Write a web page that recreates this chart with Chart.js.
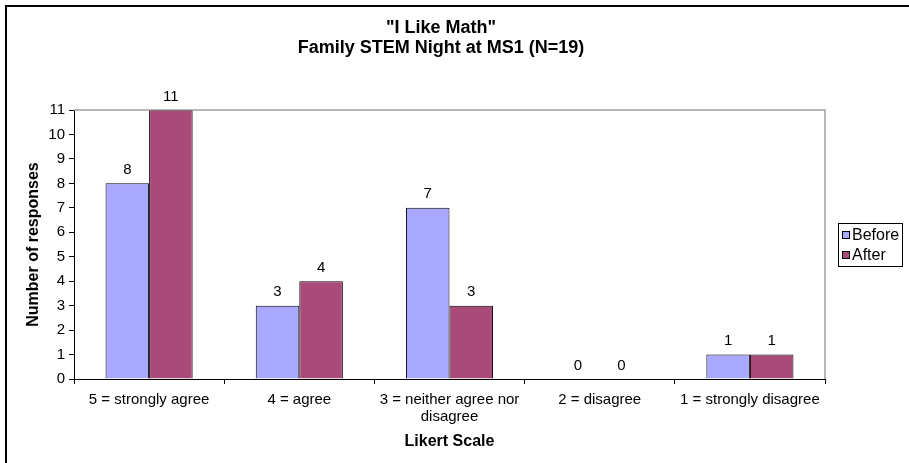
<!DOCTYPE html>
<html>
<head>
<meta charset="utf-8">
<script src="https://cdn.jsdelivr.net/npm/chart.js@4/dist/chart.umd.min.js"></script>
<style>
  html, body { margin: 0; padding: 0; background: #fff; }
  #wrap { width: 909px; height: 463px; }
</style>
</head>
<body>
<div id="wrap"><canvas id="c" width="909" height="463"></canvas></div>
<script>
const categories = [
  "5 = strongly agree",
  "4 = agree",
  ["3 = neither agree nor", "disagree"],
  "2 = disagree",
  "1 = strongly disagree"
];
const beforeValues = [8, 3, 7, 0, 1];
const afterValues = [11, 4, 3, 0, 1];
const yTicks = [0, 1, 2, 3, 4, 5, 6, 7, 8, 9, 10, 11];
const titleLines = ['"I Like Math"', 'Family STEM Night at MS1 (N=19)'];

const FONT = "'Liberation Sans', Arial, sans-serif";

// Outer frame, plot-area border, title, value labels and a boxed legend
const decorations = {
  id: 'decorations',
  beforeDraw(chart) {
    const ctx = chart.ctx;
    ctx.save();
    ctx.fillStyle = '#fff';
    ctx.fillRect(0, 0, chart.width, chart.height);
    ctx.strokeStyle = '#000';
    ctx.lineWidth = 2;
    ctx.strokeRect(6, 6, chart.width + 20, chart.height + 20);
    ctx.restore();
  },
  afterDraw(chart) {
    const ctx = chart.ctx;
    const a = chart.chartArea;
    ctx.save();
    // top and right edges of the plot area
    ctx.strokeStyle = '#a0a0a0';
    ctx.lineWidth = 1.5;
    ctx.beginPath();
    ctx.moveTo(a.left, a.top);
    ctx.lineTo(a.right, a.top);
    ctx.lineTo(a.right, a.bottom);
    ctx.stroke();

    // title
    ctx.fillStyle = '#000';
    ctx.font = 'bold 18px ' + FONT;
    ctx.textAlign = 'center';
    ctx.textBaseline = 'middle';
    ctx.fillText(titleLines[0], 441, 28);
    ctx.fillText(titleLines[1], 441, 48);

    // value labels above the bars
    ctx.font = '15px ' + FONT;
    ctx.textBaseline = 'bottom';
    chart.data.datasets.forEach((ds, i) => {
      chart.getDatasetMeta(i).data.forEach((bar, j) => {
        ctx.fillText(String(ds.data[j]), bar.x, bar.y - 6);
      });
    });

    // legend: framed box to the right of the plot area
    const lx = a.right + 13;
    const cy = (a.top + a.bottom) / 2;
    const rowGap = 20;
    const n = chart.data.datasets.length;
    ctx.strokeStyle = '#000';
    ctx.lineWidth = 1;
    ctx.strokeRect(lx + 0.5, Math.round(cy - 22) + 0.5, 64, 43);
    ctx.font = '16px ' + FONT;
    ctx.textAlign = 'left';
    ctx.textBaseline = 'middle';
    chart.data.datasets.forEach((ds, i) => {
      const y = Math.round(cy + (i - (n - 1) / 2) * rowGap);
      ctx.fillStyle = ds.backgroundColor;
      ctx.fillRect(lx + 4.5, y - 3.5, 7, 7);
      ctx.strokeRect(lx + 4.5, y - 3.5, 7, 7);
      ctx.fillStyle = '#000';
      ctx.fillText(ds.label, lx + 14, y + 1);
    });
    ctx.restore();
  }
};

new Chart(document.getElementById('c'), {
  type: 'bar',
  data: {
    labels: categories,
    datasets: [
      {
        label: 'Before',
        data: beforeValues,
        backgroundColor: '#a9aaff',
        borderColor: '#000',
        borderWidth: 1,
        barPercentage: 1,
        categoryPercentage: 0.58
      },
      {
        label: 'After',
        data: afterValues,
        backgroundColor: '#a94a78',
        borderColor: '#000',
        borderWidth: 1,
        barPercentage: 1,
        categoryPercentage: 0.58
      }
    ]
  },
  options: {
    responsive: false,
    animation: false,
    devicePixelRatio: 1,
    layout: { padding: { top: 110, left: 20, right: 84, bottom: 8 } },
    plugins: {
      title: { display: false },
      tooltip: { enabled: false },
      legend: { display: false }
    },
    scales: {
      x: {
        grid: { drawOnChartArea: false, drawTicks: true, tickLength: 5, color: '#000' },
        border: { color: '#000', width: 1 },
        ticks: { color: '#000', font: { family: FONT, size: 15, lineHeight: 1.15 }, maxRotation: 0, autoSkip: false, padding: 7 },
        title: { display: true, text: 'Likert Scale', color: '#000', font: { family: FONT, size: 16, weight: 'bold' }, padding: { top: 4 } },
        afterFit(scale) { scale.height = 463 - 379 - 8; }
      },
      y: {
        min: 0,
        max: 11,
        afterBuildTicks(scale) { scale.ticks = yTicks.map(v => ({ value: v })); },
        grid: { drawOnChartArea: false, drawTicks: true, tickLength: 5, color: '#000' },
        border: { color: '#000', width: 1 },
        ticks: { color: '#000', font: { family: FONT, size: 15 }, padding: 4 },
        title: { display: true, text: 'Number of responses', color: '#000', font: { family: FONT, size: 16, weight: 'bold' }, padding: { bottom: 10 } },
        afterFit(scale) { scale.width = 74 - 20; }
      }
    }
  },
  plugins: [decorations]
});
</script>
</body>
</html>
